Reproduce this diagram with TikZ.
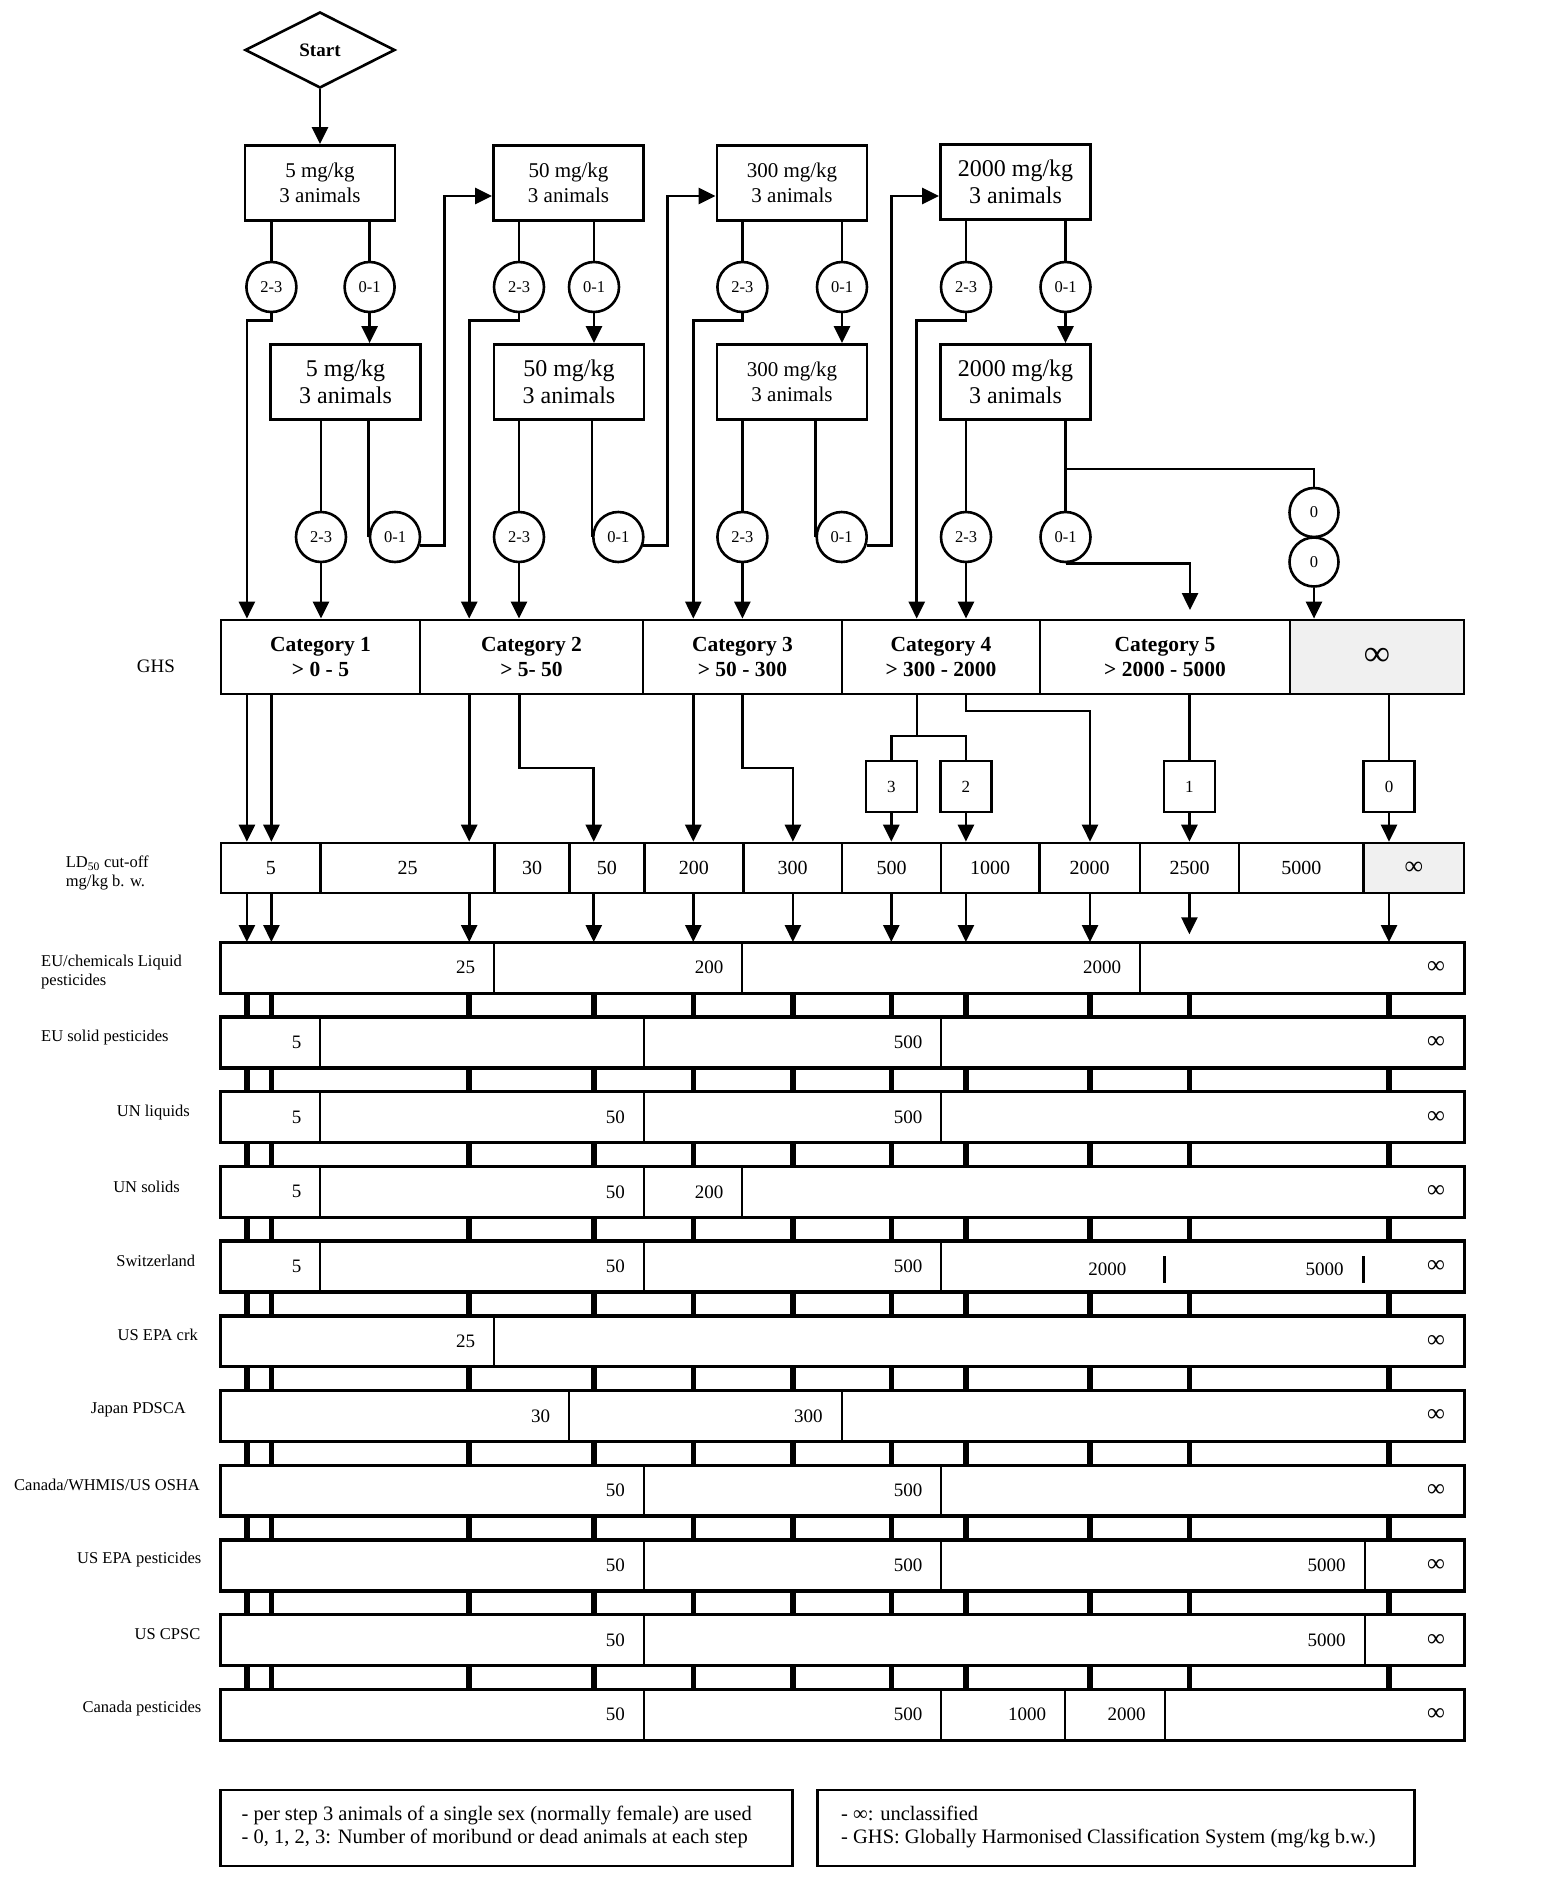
\documentclass[tikz,border=0pt]{standalone}
\usepackage{fontspec}
\setmainfont{Liberation Serif}
\usetikzlibrary{arrows.meta,shapes.geometric,calc}
\newcommand\ccell[6]{\pgfmathsetmacro\cellw{#4-#3}\pgfmathsetmacro\cellx{(#3+#4)/2}\node[#1,minimum width=\cellw pt] (#2) at (\cellx,#5) {#6};}
\newcommand\rcell[5]{\pgfmathsetmacro\cellw{#3-#2}\pgfmathsetmacro\celltw{#3-#2-38}\pgfmathsetmacro\cellx{(#2+#3)/2}\node[rc,minimum width=\cellw pt,text width=\celltw pt] (#1) at (\cellx,#4) {#5};}
\newcommand\infs[1]{{\fontsize{#1}{#1}\selectfont ∞}}
\begin{document}
\begin{tikzpicture}[x=1pt,y=-1pt,
  every node/.style={inner sep=0pt},
  ln/.style={line width=2.6pt},
  arr/.style={line width=2.6pt,-{Triangle[width=16pt,length=17pt]}},
  box/.style={draw,line width=2.8pt,minimum width=150pt,minimum height=75pt,align=center},
  fa/.style={font=\fontsize{21}{25.5}\selectfont},
  fb/.style={font=\fontsize{24}{27}\selectfont},
  circ/.style={draw,circle,line width=2.6pt,minimum size=50pt,font=\fontsize{16.5}{16.5}\selectfont},
  cat/.style={draw,line width=2.8pt,minimum height=74pt,align=center,font=\bfseries\fontsize{21.5}{25}\selectfont},
  ldc/.style={draw,line width=2.6pt,minimum height=50pt,font=\fontsize{20}{20}\selectfont},
  sq/.style={draw,line width=2.6pt,minimum width=51pt,minimum height=51pt,font=\fontsize{17}{17}\selectfont},
  rc/.style={draw,line width=2pt,minimum height=49.5pt,inner xsep=19pt,align=right,font=\fontsize{19}{19}\selectfont},
  rnum/.style={font=\fontsize{19}{19}\selectfont},
  frame/.style={draw,line width=2.8pt},
  bar/.style={line width=5.5pt},
  lab/.style={font=\fontsize{16.5}{18.5}\selectfont,align=left},
  leg/.style={draw,line width=2.8pt},
  legt/.style={align=left,font=\fontsize{20.5}{23}\selectfont},
]
\useasboundingbox (0,0) rectangle (1554,1900);

% coordinates
\coordinate (k1) at (246.9,0);  \coordinate (k2) at (271.4,0);
\coordinate (k3) at (469.2,0);  \coordinate (k4) at (593.75,0);
\coordinate (k5) at (693.3,0);  \coordinate (k6) at (792.9,0);
\coordinate (k7) at (891.3,0);  \coordinate (k8) at (965.9,0);
\coordinate (k9) at (1090,0);   \coordinate (k10) at (1189.4,0);
\coordinate (k11) at (1389,0);
\coordinate (e4) at (916.7,0);
\coordinate (m2) at (519.2,768); \coordinate (m3) at (742.4,768);
\coordinate (m4) at (916.8,736); \coordinate (m5) at (1090,711);
\coordinate (j1) at (444.3,196); \coordinate (j2) at (667.7,196);
\coordinate (j3) at (891.5,196);
\coordinate (br4) at (1065.5,469); \coordinate (e5) at (1190,610);

% start
\node[draw,diamond,line width=2.6pt,minimum width=150pt,minimum height=76pt,font=\bfseries\fontsize{19}{19}\selectfont] (start) at (320,50) {Start};

% dose boxes
\node[box,fa] (b1a) at (320,183) {5 mg/kg\\3 animals};
\node[box,fb] (b1b) at (345.5,382) {5 mg/kg\\3 animals};
\node[box,fa] (b2a) at (568.5,183) {50 mg/kg\\3 animals};
\node[box,fb] (b2b) at (569,382) {50 mg/kg\\3 animals};
\node[box,fa] (b3a) at (792,183) {300 mg/kg\\3 animals};
\node[box,fa] (b3b) at (792,382) {300 mg/kg\\3 animals};
\node[box,fb] (b4a) at (1015.5,182) {2000 mg/kg\\3 animals};
\node[box,fb] (b4b) at (1015.5,382) {2000 mg/kg\\3 animals};

% outcome circles
\node[circ] (c1u23) at (271.4,287) {2-3};
\node[circ] (c1u01) at (369.6,287) {0-1};
\node[circ] (c2u23) at (519,287) {2-3};
\node[circ] (c2u01) at (594,287) {0-1};
\node[circ] (c3u23) at (742.4,287) {2-3};
\node[circ] (c3u01) at (842,287) {0-1};
\node[circ] (c4u23) at (966,287) {2-3};
\node[circ] (c4u01) at (1065.5,287) {0-1};
\node[circ] (c1l23) at (321,537) {2-3};
\node[circ] (c1l01) at (395,537) {0-1};
\node[circ] (c2l23) at (519,537) {2-3};
\node[circ] (c2l01) at (618.3,537) {0-1};
\node[circ] (c3l23) at (742.4,537) {2-3};
\node[circ] (c3l01) at (841.7,537) {0-1};
\node[circ] (c4l23) at (966,537) {2-3};
\node[circ] (c4l01) at (1065.5,537) {0-1};
\node[circ,minimum size=49pt] (c0a) at (1314,512.5) {0};
\node[circ,minimum size=49pt] (c0b) at (1314,562) {0};

% GHS row
\ccell{cat}{cat1}{221}{420}{657}{Category 1\\> 0 - 5}
\ccell{cat}{cat2}{420}{643}{657}{Category 2\\> 5- 50}
\ccell{cat}{cat3}{643}{842}{657}{Category 3\\> 50 - 300}
\ccell{cat}{cat4}{842}{1040}{657}{Category 4\\> 300 - 2000}
\ccell{cat}{cat5}{1040}{1290}{657}{Category 5\\> 2000 - 5000}
\ccell{cat,fill=black!6}{catinf}{1290}{1464}{657}{\infs{36}}

% small count boxes
\node[sq] (n3) at (891.3,786.5) {3};
\node[sq] (n2) at (965.9,786.5) {2};
\node[sq] (n1) at (1189.4,786.5) {1};
\node[sq] (n0) at (1389,786.5) {0};

% LD50 row
\ccell{ldc}{ld5}{221}{320.5}{868}{5}
\ccell{ldc}{ld25}{320.5}{494.6}{868}{25}
\ccell{ldc}{ld30}{494.6}{569.6}{868}{30}
\ccell{ldc}{ld50}{569.6}{644.2}{868}{50}
\ccell{ldc}{ld200}{644.2}{743.3}{868}{200}
\ccell{ldc}{ld300}{743.3}{842}{868}{300}
\ccell{ldc}{ld500}{842}{941}{868}{500}
\ccell{ldc}{ld1000}{941}{1039.4}{868}{1000}
\ccell{ldc}{ld2000}{1039.4}{1140}{868}{2000}
\ccell{ldc}{ld2500}{1140}{1239}{868}{2500}
\ccell{ldc}{ld5000}{1239}{1363.5}{868}{5000}
\ccell{ldc,fill=black!6}{ldinf}{1363.5}{1464}{868}{\infs{26}}

% regulation rows
\rcell{r1-1}{221}{494}{967.75}{25}
\rcell{r1-2}{494}{742.3}{967.75}{200}
\rcell{r1-3}{742.3}{1140}{967.75}{2000}
\rcell{r1-4}{1140}{1464}{967.75}{\infs{25}}
\draw[frame] (r1-1.north west) rectangle (r1-4.south east);

\rcell{r2-1}{221}{320.4}{1042.45}{5}
\rcell{r2-2}{320.4}{643.9}{1042.45}{}
\rcell{r2-3}{643.9}{941.3}{1042.45}{500}
\rcell{r2-4}{941.3}{1464}{1042.45}{\infs{25}}
\draw[frame] (r2-1.north west) rectangle (r2-4.south east);

\rcell{r3-1}{221}{320.4}{1117.15}{5}
\rcell{r3-2}{320.4}{643.9}{1117.15}{50}
\rcell{r3-3}{643.9}{941.3}{1117.15}{500}
\rcell{r3-4}{941.3}{1464}{1117.15}{\infs{25}}
\draw[frame] (r3-1.north west) rectangle (r3-4.south east);

\rcell{r4-1}{221}{320.4}{1191.85}{5}
\rcell{r4-2}{320.4}{643.9}{1191.85}{50}
\rcell{r4-3}{643.9}{742.3}{1191.85}{200}
\rcell{r4-4}{742.3}{1464}{1191.85}{\infs{25}}
\draw[frame] (r4-1.north west) rectangle (r4-4.south east);

\rcell{r5-1}{221}{320.4}{1266.55}{5}
\rcell{r5-2}{320.4}{643.9}{1266.55}{50}
\rcell{r5-3}{643.9}{941.3}{1266.55}{500}
\rcell{r5-4}{941.3}{1464}{1266.55}{\infs{25}}
\draw[frame] (r5-1.north west) rectangle (r5-4.south east);
\node[rnum] (sw2000) at (1107.4,1269) {2000};
\node[rnum] (sw5000) at (1324.7,1269) {5000};
\draw[line width=2.4pt] (1164.6,1256) -- (1164.6,1283);
\draw[line width=2.4pt] (1363.4,1256) -- (1363.4,1283);

\rcell{r6-1}{221}{494}{1341.25}{25}
\rcell{r6-2}{494}{1464}{1341.25}{\infs{25}}
\draw[frame] (r6-1.north west) rectangle (r6-2.south east);

\rcell{r7-1}{221}{569}{1415.95}{30}
\rcell{r7-2}{569}{841.6}{1415.95}{300}
\rcell{r7-3}{841.6}{1464}{1415.95}{\infs{25}}
\draw[frame] (r7-1.north west) rectangle (r7-3.south east);

\rcell{r8-1}{221}{643.9}{1490.65}{50}
\rcell{r8-2}{643.9}{941.3}{1490.65}{500}
\rcell{r8-3}{941.3}{1464}{1490.65}{\infs{25}}
\draw[frame] (r8-1.north west) rectangle (r8-3.south east);

\rcell{r9-1}{221}{643.9}{1565.35}{50}
\rcell{r9-2}{643.9}{941.3}{1565.35}{500}
\rcell{r9-3}{941.3}{1364.5}{1565.35}{5000}
\rcell{r9-4}{1364.5}{1464}{1565.35}{\infs{25}}
\draw[frame] (r9-1.north west) rectangle (r9-4.south east);

\rcell{r10-1}{221}{643.9}{1640.05}{50}
\rcell{r10-2}{643.9}{1364.5}{1640.05}{5000}
\rcell{r10-3}{1364.5}{1464}{1640.05}{\infs{25}}
\draw[frame] (r10-1.north west) rectangle (r10-3.south east);

\rcell{r11-1}{221}{643.9}{1714.75}{50}
\rcell{r11-2}{643.9}{941.3}{1714.75}{500}
\rcell{r11-3}{941.3}{1065}{1714.75}{1000}
\rcell{r11-4}{1065}{1164.6}{1714.75}{2000}
\rcell{r11-5}{1164.6}{1464}{1714.75}{\infs{25}}
\draw[frame] (r11-1.north west) rectangle (r11-5.south east);

% row labels
\node[font=\fontsize{19}{19}\selectfont] (ghs) at (156,666) {GHS};
\node[lab,anchor=west] (ldl) at (65.7,873) {LD\textsubscript{50} cut-off\\mg/kg b. w.};
\node[lab,anchor=west] (rl1) at (41,972) {EU/chemicals Liquid\\pesticides};
\node[lab,anchor=west] (rl2) at (41,1038) {EU solid pesticides};
\node[lab,anchor=east] (rl3) at (190,1113) {UN liquids};
\node[lab,anchor=east] (rl4) at (180,1187) {UN solids};
\node[lab,anchor=east] (rl5) at (195.4,1261) {Switzerland};
\node[lab,anchor=east] (rl6) at (198,1335) {US EPA crk};
\node[lab,anchor=east] (rl7) at (186,1410) {Japan PDSCA};
\node[lab,anchor=east] (rl8) at (200,1485) {Canada/WHMIS/US OSHA};
\node[lab,anchor=east] (rl9) at (201.5,1560) {US EPA pesticides};
\node[lab,anchor=east] (rl10) at (200.5,1634) {US CPSC};
\node[lab,anchor=east] (rl11) at (201.5,1709) {Canada pesticides};

% legend
\node[leg,minimum width=572pt,minimum height=76pt] (leg1) at (506.8,1828) {};
\node[legt,anchor=west] (leg1t) at (241.5,1827) {- per step 3 animals of a single sex (normally female) are used\\- 0, 1, 2, 3: Number of moribund or dead animals at each step};
\node[leg,minimum width=597pt,minimum height=76pt] (leg2) at (1116.2,1828) {};
\node[legt,anchor=west] (leg2t) at (841,1827) {- ∞: unclassified\\- GHS: Globally Harmonised Classification System (mg/kg b.w.)};

% ---- connectors: dosing flow
\draw[arr] (start.south) -- (b1a.north);
\draw[ln] (b1a.south -| c1u23) -- (c1u23.north);
\draw[ln] (b1a.south -| c1u01) -- (c1u01.north);
\draw[arr] (c1u01.south) -- (b1b.north -| c1u01);
\draw[arr] (c1u23.south) -- ++(0,7) -| (cat1.north -| k1);
\draw[ln] (b1b.south -| c1l23) -- (c1l23.north);
\draw[arr] (c1l23.south) -- (cat1.north -| c1l23);
\draw[ln] (b1b.south -| c1l01.west) -- (c1l01.west);
\draw[arr] (c1l01.-19) -| (j1) -- (b2a.west |- j1);

\draw[ln] (b2a.south -| c2u23) -- (c2u23.north);
\draw[ln] (b2a.south -| c2u01) -- (c2u01.north);
\draw[arr] (c2u01.south) -- (b2b.north -| c2u01);
\draw[arr] (c2u23.south) -- ++(0,7) -| (cat2.north -| k3);
\draw[ln] (b2b.south -| c2l23) -- (c2l23.north);
\draw[arr] (c2l23.south) -- (cat2.north -| c2l23);
\draw[ln] (b2b.south -| c2l01.west) -- (c2l01.west);
\draw[arr] (c2l01.-19) -| (j2) -- (b3a.west |- j2);

\draw[ln] (b3a.south -| c3u23) -- (c3u23.north);
\draw[ln] (b3a.south -| c3u01) -- (c3u01.north);
\draw[arr] (c3u01.south) -- (b3b.north -| c3u01);
\draw[arr] (c3u23.south) -- ++(0,7) -| (cat3.north -| k5);
\draw[ln] (b3b.south -| c3l23) -- (c3l23.north);
\draw[arr] (c3l23.south) -- (cat3.north -| c3l23);
\draw[ln] (b3b.south -| c3l01.west) -- (c3l01.west);
\draw[arr] (c3l01.-19) -| (j3) -- (b4a.west |- j3);

\draw[ln] (b4a.south -| c4u23) -- (c4u23.north);
\draw[ln] (b4a.south -| c4u01) -- (c4u01.north);
\draw[arr] (c4u01.south) -- (b4b.north -| c4u01);
\draw[arr] (c4u23.south) -- ++(0,7) -| (cat4.north -| e4);
\draw[ln] (b4b.south -| c4l23) -- (c4l23.north);
\draw[arr] (c4l23.south) -- (cat4.north -| c4l23);
\draw[ln] (b4b.south -| c4l01) -- (c4l01.north);
\draw[arr] (c4l01.south) -| (e5);
\draw[ln] (br4) -| (c0a.north);
\draw[arr] (c0b.south) -- (catinf.north -| c0b);

% ---- GHS to LD50
\draw[arr] (cat1.south -| k1) -- (ld5.north -| k1);
\draw[arr] (cat1.south -| k2) -- (ld5.north -| k2);
\draw[arr] (cat2.south -| k3) -- (ld25.north -| k3);
\draw[arr] (cat2.south -| m2) -- (m2) -| (ld50.north -| k4);
\draw[arr] (cat3.south -| k5) -- (ld200.north -| k5);
\draw[arr] (cat3.south -| m3) -- (m3) -| (ld300.north -| k6);
\draw[ln] (cat4.south -| m4) -- (m4);
\draw[ln] (n3.north) |- (m4) -| (n2.north);
\draw[arr] (n3.south) -- (ld500.north -| n3);
\draw[arr] (n2.south) -- (ld1000.north -| n2);
\draw[arr] (cat4.south -| k8) |- (m5) -- (ld2000.north -| m5);
\draw[ln] (cat5.south -| n1) -- (n1.north);
\draw[arr] (n1.south) -- (ld2500.north -| n1);
\draw[ln] (catinf.south -| n0) -- (n0.north);
\draw[arr] (n0.south) -- (ldinf.north -| n0);

% ---- LD50 to first regulation row
\foreach \k/\c in {1/ld5,2/ld5,3/ld25,4/ld50,5/ld200,6/ld300,7/ld500,8/ld1000,9/ld2000,11/ldinf}
  {\draw[arr] (\c.south -| k\k) -- (r1-1.north -| k\k);}
\draw[arr] (ld2500.south -| k10) -- ++(0,40);

% ---- bars between rows
\foreach \i in {1,...,10}{
  \pgfmathtruncatemacro\j{\i+1}
  \foreach \k in {1,...,11}{
    \draw[bar] (r\i-1.south -| k\k) -- (r\j-1.north -| k\k);
  }
}
\end{tikzpicture}
\end{document}
